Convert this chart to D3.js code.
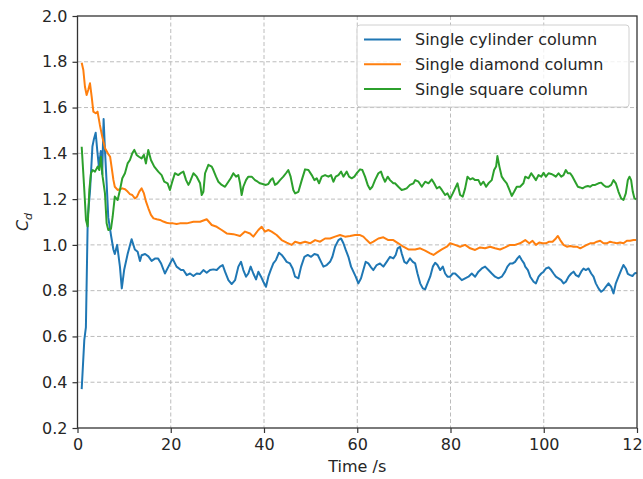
<!DOCTYPE html>
<html>
<head>
<meta charset="utf-8">
<script src="https://cdn.jsdelivr.net/npm/d3@7"></script>
<style>
  body { margin: 0; background: #fff; }
  text { font-family: "DejaVu Sans", sans-serif; fill: #262626; }
</style>
</head>
<body>
<script>
// Drag coefficient histories, [time (s), Cd]
var cylinder = [
  [0.9,0.37],[1.46,0.585],[1.8,0.64],[2.2,1.12],[2.7,1.24],[3.2,1.43],[3.5,1.46],[3.9,1.49],[4.25,1.41],[4.6,1.34],
  [5.0,1.41],[5.3,1.31],[5.6,1.55],[5.9,1.41],[6.25,1.27],[6.6,1.12],[7.2,1.04],[7.7,0.98],[8.0,0.96],[8.5,1.0],
  [9.1,0.905],[9.5,0.81],[10.0,0.89],[10.75,0.96],[11.6,1.025],[12.3,0.98],[12.9,0.97],[13.4,0.93],[13.75,0.955],[14.5,0.96],
  [15.2,0.95],[15.9,0.93],[16.6,0.94],[17.3,0.94],[17.9,0.92],[18.75,0.875],[19.5,0.905],[20.4,0.94],[21.25,0.905],[22.2,0.89],
  [22.71,0.89],[23.43,0.868],[24.14,0.875],[24.86,0.864],[25.57,0.875],[26.29,0.873],[27.0,0.89],[27.71,0.878],[28.43,0.89],[29.14,0.893],
  [29.86,0.89],[30.57,0.905],[31.14,0.912],[31.64,0.883],[32.36,0.846],[33.07,0.829],[33.79,0.846],[34.5,0.905],[35.07,0.926],[35.57,0.89],
  [36.14,0.861],[36.64,0.875],[37.14,0.905],[37.71,0.875],[38.29,0.849],[38.79,0.883],[39.36,0.861],[39.86,0.839],[40.43,0.817],[40.93,0.861],
  [41.43,0.89],[42.0,0.919],[42.57,0.934],[43.21,0.966],[43.79,0.956],[44.36,0.941],[44.86,0.926],[45.57,0.919],[46.14,0.897],[46.67,0.861],
  [47.38,0.854],[47.96,0.905],[48.67,0.948],[49.38,0.956],[50.1,0.948],[50.81,0.96],[51.53,0.956],[52.24,0.926],[52.74,0.905],[53.46,0.912],
  [54.17,0.926],[54.67,0.948],[55.24,0.992],[55.96,1.021],[56.53,1.028],[57.03,1.007],[57.53,0.978],[58.1,0.948],[58.67,0.905],[59.17,0.883],
  [59.67,0.861],[60.24,0.832],[60.81,0.854],[61.31,0.89],[61.81,0.926],[62.38,0.919],[62.96,0.902],[63.46,0.89],[64.17,0.912],[64.88,0.919],
  [65.6,0.905],[66.31,0.926],[67.03,0.948],[67.74,0.941],[68.24,0.956],[68.67,0.985],[69.17,0.992],[69.53,0.963],[70.1,0.926],[70.6,0.919],
  [71.31,0.941],[71.92,0.926],[72.42,0.919],[72.92,0.875],[73.49,0.832],[74.06,0.81],[74.56,0.806],[75.06,0.832],[75.64,0.861],[76.21,0.905],
  [76.71,0.922],[77.21,0.912],[77.78,0.89],[78.35,0.905],[78.85,0.875],[79.35,0.861],[79.92,0.861],[80.49,0.875],[80.99,0.875],[81.71,0.861],
  [82.42,0.846],[83.14,0.854],[83.85,0.861],[84.56,0.875],[85.28,0.861],[85.99,0.883],[86.71,0.897],[87.42,0.905],[88.14,0.89],[88.85,0.875],
  [89.56,0.861],[90.28,0.854],[90.99,0.861],[91.71,0.883],[92.21,0.905],[92.78,0.919],[93.35,0.919],[93.85,0.926],[94.35,0.941],[94.78,0.951],
  [95.28,0.934],[95.78,0.919],[96.03,0.905],[96.6,0.89],[97.1,0.861],[97.82,0.839],[98.32,0.832],[98.89,0.861],[99.46,0.875],[99.96,0.883],
  [100.46,0.897],[101.03,0.902],[101.6,0.89],[102.1,0.875],[102.6,0.861],[103.17,0.854],[103.74,0.846],[104.24,0.832],[104.74,0.839],[105.32,0.861],
  [105.89,0.875],[106.39,0.883],[106.89,0.868],[107.46,0.861],[108.03,0.883],[108.53,0.897],[109.03,0.89],[109.6,0.897],[110.17,0.875],[110.67,0.861],
  [111.17,0.832],[111.74,0.81],[112.31,0.795],[112.81,0.803],[113.31,0.817],[113.89,0.832],[114.46,0.817],[114.96,0.788],[115.46,0.832],[116.03,0.861],
  [116.6,0.89],[117.1,0.912],[117.6,0.897],[118.03,0.873],[118.53,0.868],[119.03,0.864],[119.46,0.875],[119.96,0.878]
];

var diamond = [
  [0.9,1.796],[1.25,1.764],[1.6,1.691],[1.96,1.655],[2.3,1.677],[2.68,1.706],[3.04,1.648],[3.4,1.582],[3.9,1.575],[4.3,1.582],
  [4.8,1.524],[5.3,1.473],[5.9,1.422],[6.5,1.40],[7.0,1.385],[7.3,1.342],[7.7,1.284],[8.0,1.254],[8.6,1.24],[9.1,1.243],
  [9.6,1.247],[10.2,1.243],[10.75,1.233],[11.25,1.222],[11.75,1.218],[12.3,1.203],[12.75,1.21],[13.25,1.233],[13.75,1.247],[14.25,1.225],
  [14.7,1.189],[15.2,1.16],[15.75,1.131],[16.3,1.116],[17.0,1.112],[17.7,1.109],[18.4,1.102],[19.1,1.097],[19.8,1.094],[20.5,1.094],
  [21.25,1.091],[21.96,1.094],[22.7,1.094],[23.43,1.094],[24.86,1.101],[26.29,1.101],[27.71,1.112],[28.79,1.087],[29.86,1.079],[30.93,1.065],
  [32.0,1.05],[33.43,1.047],[34.86,1.039],[35.93,1.058],[37.0,1.05],[37.71,1.036],[38.79,1.065],[39.5,1.079],[40.21,1.058],[40.93,1.065],
  [41.64,1.058],[42.71,1.043],[43.79,1.021],[44.86,1.01],[45.93,1.0],[46.67,1.014],[47.74,1.007],[48.81,1.014],[49.88,1.007],[50.96,1.021],
  [52.03,1.014],[53.1,1.028],[54.17,1.028],[55.24,1.036],[56.31,1.043],[57.38,1.036],[58.46,1.039],[59.53,1.043],[60.6,1.043],[61.31,1.036],
  [62.03,1.021],[62.74,1.007],[63.46,1.014],[64.53,1.028],[65.6,1.033],[66.67,1.021],[67.74,1.021],[68.81,1.007],[69.88,0.992],[70.96,0.98],
  [72.42,0.98],[73.49,0.985],[74.56,0.975],[75.64,0.963],[76.35,0.956],[77.06,0.966],[78.14,0.98],[79.21,0.992],[79.92,1.007],[80.99,1.0],
  [82.06,0.992],[83.14,1.0],[84.21,0.985],[85.28,0.978],[86.35,0.989],[87.42,0.985],[88.49,0.992],[89.56,0.985],[90.64,0.98],[91.71,0.989],
  [92.78,1.0],[93.85,1.0],[94.92,1.007],[96.03,1.021],[96.89,1.007],[97.6,1.018],[98.32,1.0],[99.03,1.01],[99.74,1.007],[100.46,1.007],
  [101.17,1.014],[101.89,1.014],[102.6,1.028],[103.03,1.039],[103.53,1.021],[104.24,1.0],[104.96,0.992],[105.67,0.995],[106.39,0.992],[107.1,0.992],
  [107.82,0.985],[108.53,0.992],[109.24,1.0],[109.96,1.007],[110.67,1.007],[111.39,1.014],[112.1,1.018],[112.81,1.007],[113.53,1.007],[114.24,1.014],
  [114.96,1.01],[115.67,1.007],[116.39,1.01],[117.1,1.007],[117.82,1.018],[118.53,1.018],[119.24,1.021],[119.81,1.021]
];

var square = [
  [0.9,1.429],[1.46,1.24],[1.82,1.109],[2.18,1.08],[2.54,1.24],[2.89,1.313],[3.25,1.327],[3.75,1.32],[4.32,1.342],[4.68,1.327],
  [5.04,1.385],[5.39,1.298],[5.89,1.225],[6.25,1.094],[6.61,1.065],[7.18,1.07],[7.54,1.123],[8.0,1.211],[8.61,1.196],[9.11,1.24],
  [9.61,1.291],[10.18,1.313],[10.75,1.356],[11.25,1.371],[11.75,1.40],[12.18,1.415],[12.68,1.393],[13.18,1.385],[13.75,1.378],[14.25,1.393],
  [14.68,1.356],[15.18,1.415],[15.75,1.371],[16.46,1.342],[17.32,1.32],[18.04,1.305],[18.6,1.276],[19.32,1.269],[19.82,1.24],[20.32,1.276],
  [20.89,1.313],[21.6,1.305],[22.32,1.316],[22.71,1.32],[23.29,1.283],[23.79,1.262],[24.14,1.276],[24.86,1.313],[25.57,1.298],[26.29,1.269],
  [26.64,1.218],[27.0,1.232],[27.36,1.313],[28.07,1.35],[28.79,1.342],[29.14,1.327],[29.71,1.298],[30.21,1.276],[30.93,1.262],[31.64,1.254],
  [32.36,1.276],[32.86,1.291],[33.43,1.313],[34.0,1.298],[34.5,1.305],[34.86,1.269],[35.21,1.218],[35.57,1.254],[36.14,1.283],[36.64,1.298],
  [37.36,1.298],[38.07,1.283],[38.64,1.276],[39.14,1.269],[39.71,1.266],[40.43,1.262],[40.93,1.266],[41.43,1.283],[41.86,1.291],[42.36,1.262],
  [42.86,1.269],[43.43,1.283],[44.14,1.298],[44.71,1.313],[45.21,1.327],[45.71,1.298],[46.29,1.24],[46.67,1.225],[47.38,1.232],[48.1,1.283],
  [48.81,1.33],[49.53,1.327],[50.24,1.305],[50.81,1.283],[51.31,1.291],[51.81,1.269],[52.38,1.298],[53.1,1.305],[53.81,1.298],[54.38,1.305],
  [54.88,1.276],[55.38,1.298],[55.96,1.305],[56.53,1.32],[57.03,1.298],[57.74,1.32],[58.24,1.298],[58.81,1.291],[59.38,1.298],[59.88,1.313],
  [60.6,1.33],[61.1,1.327],[61.67,1.298],[62.24,1.262],[62.74,1.243],[63.24,1.254],[63.81,1.283],[64.53,1.313],[65.1,1.32],[65.46,1.298],
  [65.96,1.276],[66.53,1.298],[67.03,1.283],[67.74,1.269],[68.1,1.269],[68.81,1.254],[69.53,1.24],[70.1,1.243],[70.6,1.247],[71.31,1.262],
  [72.06,1.269],[72.42,1.283],[73.14,1.276],[73.85,1.254],[74.56,1.276],[75.28,1.269],[75.99,1.286],[76.49,1.269],[77.06,1.247],[77.64,1.254],
  [78.14,1.24],[78.85,1.218],[79.35,1.225],[79.92,1.203],[80.49,1.225],[80.99,1.247],[81.49,1.269],[82.06,1.218],[82.64,1.211],[83.14,1.247],
  [83.64,1.298],[84.21,1.286],[84.78,1.291],[85.28,1.283],[85.99,1.283],[86.49,1.262],[87.06,1.276],[87.64,1.254],[88.14,1.269],[88.85,1.283],
  [89.35,1.327],[89.78,1.342],[90.06,1.388],[90.49,1.342],[90.99,1.298],[91.49,1.283],[92.06,1.269],[92.64,1.24],[93.14,1.214],[93.64,1.232],
  [94.21,1.254],[94.92,1.254],[95.64,1.269],[96.03,1.298],[96.74,1.291],[97.32,1.313],[97.82,1.298],[98.32,1.283],[98.89,1.305],[99.46,1.298],
  [99.96,1.315],[100.46,1.298],[101.03,1.313],[101.6,1.31],[102.1,1.305],[102.6,1.298],[103.17,1.313],[103.74,1.298],[104.24,1.305],[104.74,1.327],
  [105.17,1.313],[105.67,1.313],[106.17,1.298],[106.74,1.276],[107.32,1.254],[107.82,1.251],[108.31,1.247],[108.89,1.254],[109.46,1.257],[109.96,1.254],
  [110.46,1.262],[111.03,1.262],[111.74,1.269],[112.31,1.272],[112.81,1.262],[113.31,1.254],[113.89,1.254],[114.46,1.262],[114.96,1.283],[115.46,1.269],
  [116.03,1.232],[116.6,1.203],[117.1,1.196],[117.6,1.225],[118.03,1.283],[118.39,1.298],[118.74,1.283],[119.1,1.232],[119.46,1.203],[119.81,1.199]
];

var seriesNames = ["Single cylinder column", "Single diamond column", "Single square column"];
var seriesColors = ["#1f77b4", "#ff7f0e", "#2ca02c"];
var xTicks = [0, 20, 40, 60, 80, 100, 120];
var yTicks = [0.2, 0.4, 0.6, 0.8, 1.0, 1.2, 1.4, 1.6, 1.8, 2.0];

var width = 643,
    height = 479;

// plot box (pixels)
var pLeft = 77.5, pRight = 637, pTop = 16, pBottom = 428;

var svg = d3.select('body')
    .append('svg')
    .attr('width', width)
    .attr('height', height);

var x = d3.scaleLinear().domain([0, 120]).range([pLeft, pRight]);
var y = d3.scaleLinear().domain([0.2, 2.0]).range([pBottom, pTop]);

// grid
svg.append("g").selectAll("line")
    .data(xTicks.slice(1, -1))
    .enter().append("line")
      .attr("x1", function(d) { return x(d); })
      .attr("x2", function(d) { return x(d); })
      .attr("y1", pTop).attr("y2", pBottom)
      .attr("stroke", "#bcbcbc").attr("stroke-width", 1)
      .attr("stroke-dasharray", "4,2.5");

svg.append("g").selectAll("line")
    .data(yTicks.slice(1, -1))
    .enter().append("line")
      .attr("y1", function(d) { return y(d); })
      .attr("y2", function(d) { return y(d); })
      .attr("x1", pLeft).attr("x2", pRight)
      .attr("stroke", "#bcbcbc").attr("stroke-width", 1)
      .attr("stroke-dasharray", "4,2.5");

svg.append("clipPath").attr("id", "clip")
  .append("rect")
    .attr("x", pLeft).attr("y", pTop)
    .attr("width", pRight - pLeft).attr("height", pBottom - pTop);

var line = d3.line()
    .x(function(d) { return x(d[0]); })
    .y(function(d) { return y(d[1]); });

var allSeries = [cylinder, diamond, square];

svg.append("g")
    .attr("clip-path", "url(#clip)")
  .selectAll("path")
  .data(allSeries)
  .enter().append("path")
    .attr("d", line)
    .attr("fill", "none")
    .attr("stroke", function(d, i) { return seriesColors[i]; })
    .attr("stroke-width", 2)
    .attr("stroke-linejoin", "round");

// axes
var xAxis = svg.append("g")
    .attr("transform", "translate(0," + pBottom + ")")
    .call(d3.axisBottom(x).tickValues(xTicks).tickSize(5).tickSizeOuter(0).tickPadding(6)
      .tickFormat(d3.format("d")));

var yAxis = svg.append("g")
    .attr("transform", "translate(" + pLeft + ",0)")
    .call(d3.axisLeft(y).tickValues(yTicks).tickSize(5).tickSizeOuter(0).tickPadding(5)
      .tickFormat(d3.format(".1f")));

[xAxis, yAxis].forEach(function(a) {
  a.select(".domain").remove();
  a.selectAll(".tick line").attr("stroke", "#333").attr("stroke-width", 1.2);
  a.selectAll(".tick text")
    .style("font-family", "'DejaVu Sans', sans-serif")
    .style("font-size", "16px")
    .attr("fill", "#262626");
});

svg.append("rect")
    .attr("x", pLeft).attr("y", pTop)
    .attr("width", pRight - pLeft).attr("height", pBottom - pTop)
    .attr("fill", "none")
    .attr("stroke", "#333")
    .attr("stroke-width", 1.3);

// axis labels
svg.append("text")
    .attr("x", (pLeft + pRight) / 2)
    .attr("y", 472)
    .attr("text-anchor", "middle")
    .style("font-size", "16px")
    .text("Time /s");

var yl = svg.append("text")
    .attr("transform", "translate(28," + ((pTop + pBottom) / 2) + ") rotate(-90)")
    .attr("text-anchor", "middle")
    .style("font-size", "16px");
yl.append("tspan").style("font-style", "italic").text("C");
yl.append("tspan").attr("dy", 4).style("font-size", "11px").style("font-style", "italic").text("d");

// legend
var lg = svg.append("g");
lg.append("rect")
    .attr("x", 357).attr("y", 25)
    .attr("width", 272).attr("height", 82)
    .attr("rx", 3)
    .attr("fill", "#fff").attr("fill-opacity", 0.8)
    .attr("stroke", "#d0d0d0").attr("stroke-width", 1);

var rows = lg.selectAll("g.row")
    .data(seriesNames)
    .enter().append("g")
      .attr("class", "row")
      .attr("transform", function(d, i) { return "translate(0," + (39.5 + i * 24.8) + ")"; });

rows.append("line")
    .attr("x1", 364).attr("x2", 401)
    .attr("stroke", function(d, i) { return seriesColors[i]; })
    .attr("stroke-width", 2);

rows.append("text")
    .attr("x", 415).attr("y", 5.8)
    .style("font-size", "16px")
    .text(function(d) { return d; });
</script>
</body>
</html>
